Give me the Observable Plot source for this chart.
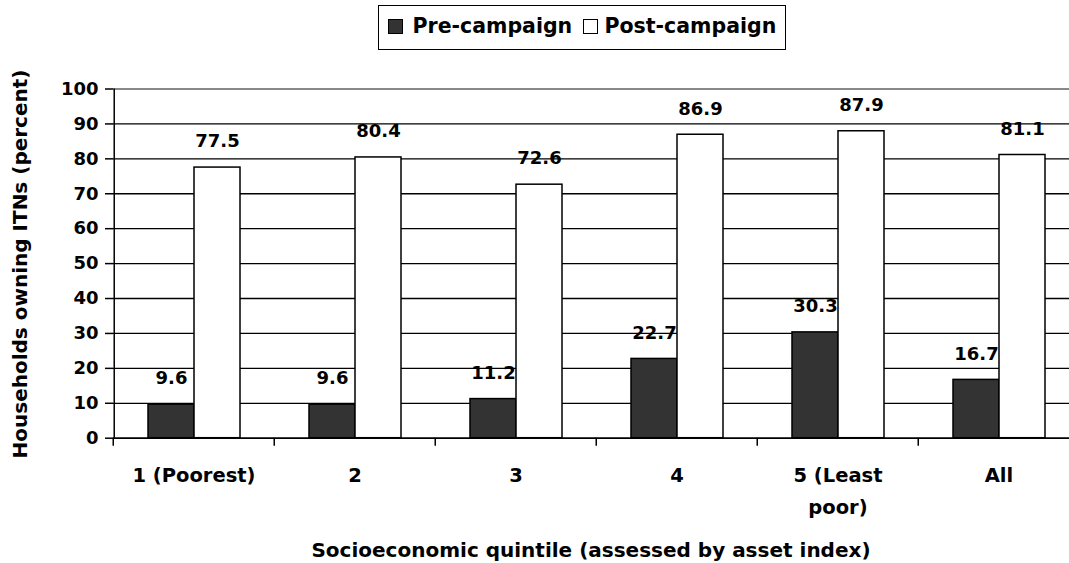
<!DOCTYPE html>
<html><head><meta charset="utf-8">
<script src="https://cdn.jsdelivr.net/npm/d3@7"></script>
<script src="https://cdn.jsdelivr.net/npm/@observablehq/plot@0.6"></script>
<style>
html,body{margin:0;padding:0;background:#fff;}
#wrap{position:relative;width:1069px;height:563px;overflow:hidden;font-family:"DejaVu Sans",Verdana,sans-serif;font-weight:bold;color:#000;}
#legend{position:absolute;left:378px;top:5px;width:406px;height:43px;border:1.5px solid #000;}
.sw{position:absolute;top:13px;width:13px;height:13px;border:1px solid #000;}
.lt{position:absolute;top:10px;font-size:20.5px;line-height:21px;white-space:nowrap;}
#chart{position:absolute;left:0;top:56px;}
#ytitle{position:absolute;left:20px;top:264px;transform:translate(-50%,-50%) rotate(-90deg);font-size:20px;white-space:nowrap;}
#xtitle{position:absolute;left:591px;top:550px;transform:translate(-50%,-50%);font-size:20px;white-space:nowrap;}
</style>
</head><body>
<div id="wrap">
  <div id="legend">
    <span class="sw" style="left:8.5px;background:#333333"></span><span class="lt" style="left:33.5px" id="l1"></span>
    <span class="sw" style="left:203.5px;background:#ffffff"></span><span class="lt" style="left:225.5px" id="l2"></span>
  </div>
  <div id="chart"></div>
  <div id="ytitle"></div>
  <div id="xtitle"></div>
</div>
<script>
const categories = ["1 (Poorest)", "2", "3", "4", "5 (Least\npoor)", "All"];
const series = ["Pre-campaign", "Post-campaign"];
const preCampaign = [9.6, 9.6, 11.2, 22.7, 30.3, 16.7];
const postCampaign = [77.5, 80.4, 72.6, 86.9, 87.9, 81.1];
const yTicks = [0, 10, 20, 30, 40, 50, 60, 70, 80, 90, 100];
const yTitle = "Households owning ITNs (percent)";
const xTitle = "Socioeconomic quintile (assessed by asset index)";

const rows = categories.flatMap((c, i) => [
  {category: c, series: series[0], value: preCampaign[i]},
  {category: c, series: series[1], value: postCampaign[i]}
]);

document.getElementById("l1").textContent = series[0];
document.getElementById("l2").textContent = series[1];
document.getElementById("ytitle").textContent = yTitle;
document.getElementById("xtitle").textContent = xTitle;

const W = 1069, H = 482, ML = 111, MR = -11, MT = 32.5, MB = 100.3;
const S = (W - ML - MR) / categories.length;
const PO = 0.72;
const bw = S / (2 + 2 * PO);

const chart = Plot.plot({
  width: W, height: H,
  marginLeft: ML, marginRight: MR, marginTop: MT, marginBottom: MB,
  style: {fontFamily: "DejaVu Sans, Verdana, sans-serif", fontWeight: "bold", color: "#000", background: "transparent"},
  fx: {domain: categories, padding: 0, label: null},
  x: {domain: series, paddingInner: 0, paddingOuter: PO, axis: null},
  y: {domain: [0, 100], axis: null},
  color: {domain: series, range: ["#333333", "#ffffff"]},
  marks: [
    Plot.ruleY(yTicks.filter(t => t < 100), {stroke: "#000", strokeWidth: 1.3}),
    Plot.ruleY([100], {stroke: "#888", strokeWidth: 2}),
    Plot.barY(rows, {fx: "category", x: "series", y: "value", fill: "series", stroke: "#000", strokeWidth: 1.5}),
    Plot.text(rows, {fx: "category", x: "series", y: "value", text: d => d.value.toFixed(1), dy: -26, fontSize: 18, fontWeight: "bold", fill: "#000"}),
    Plot.ruleY([0], {stroke: "#000", strokeWidth: 1.5}),
    Plot.ruleX([categories[0]], {fx: d => d, x: () => series[0], y1: 0, y2: 100, dx: -(S / 2 - bw / 2), stroke: "#000", strokeWidth: 1.5}),
    Plot.axisY({ticks: yTicks, tickSize: 8, tickPadding: 7, fontSize: 18, fontWeight: "bold", label: null, strokeWidth: 1.5}),
    Plot.axisFx({anchor: "bottom", tickSize: 8, tickFormat: () => "", dx: -S / 2, label: null, strokeWidth: 1.5}),
    Plot.axisFx({anchor: "bottom", tickSize: 0, tickPadding: 22, fontSize: 19.5, fontWeight: "bold", lineHeight: 1.6, label: null})
  ]
});
document.getElementById("chart").appendChild(chart);
</script>
</body></html>
